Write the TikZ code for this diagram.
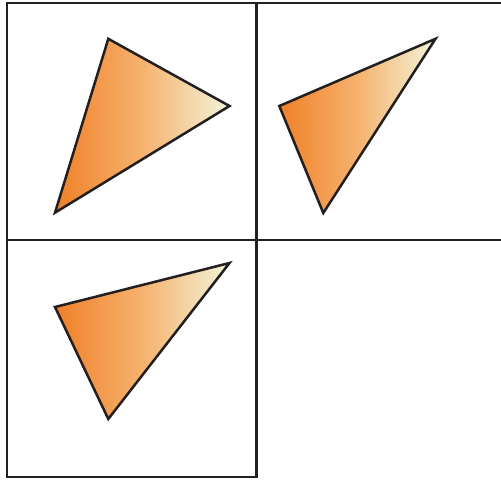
\documentclass[tikz,border=0pt]{standalone}
\definecolor{orangeL}{RGB}{239,128,40}
\definecolor{orangeM}{RGB}{246,178,110}
\definecolor{creamR}{RGB}{242,244,218}
\definecolor{gridline}{RGB}{35,31,32}
\tikzset{
  gridstroke/.style={draw=gridline, line width=2.3pt},
  tri/.style={draw=gridline, line width=2.5pt, left color=orangeL, right color=creamR, middle color=orangeM}
}
\begin{document}
\begin{tikzpicture}[x=1pt,y=-1pt]
\useasboundingbox (0,0) rectangle (501,482);
% grid
\draw[gridstroke] (501,3) -- (7,3) -- (7,477) -- (256.5,477) -- (256.5,3);
\draw[gridstroke] (7,240) -- (501,240);
% triangles
\coordinate (a1) at (108.3,38.8);
\coordinate (a2) at (229.5,106);
\coordinate (a3) at (55,212.7);
\path[tri] (a1) -- (a2) -- (a3) -- cycle;
\coordinate (b1) at (279.3,106);
\coordinate (b2) at (435.5,38.8);
\coordinate (b3) at (323.3,213);
\path[tri] (b1) -- (b2) -- (b3) -- cycle;
\coordinate (c1) at (55,307);
\coordinate (c2) at (229.5,263);
\coordinate (c3) at (108.3,419);
\path[tri] (c1) -- (c2) -- (c3) -- cycle;
\end{tikzpicture}
\end{document}
